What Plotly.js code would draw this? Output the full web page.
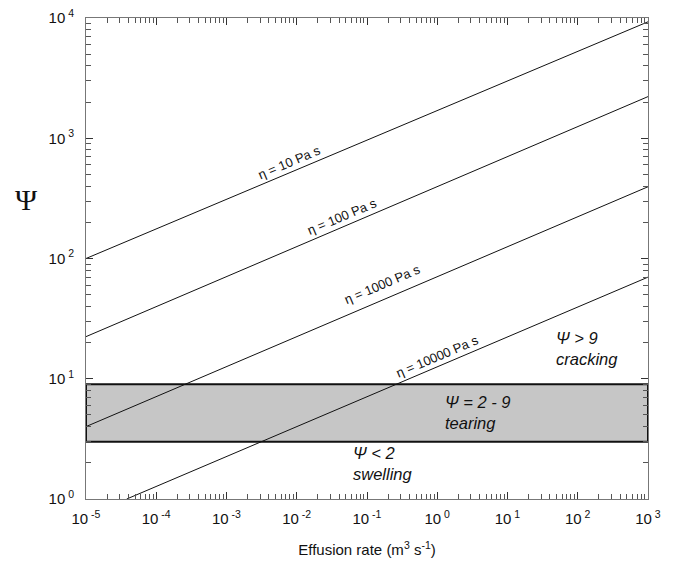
<!DOCTYPE html>
<html>
<head>
<meta charset="utf-8">
<script src="https://cdn.plot.ly/plotly-3.0.1.min.js"></script>
<style>html,body{margin:0;padding:0;background:#fff;}#chart{width:675px;height:569px;}</style>
</head>
<body>
<div id="chart"></div>
<script>
// ---- data ----
const effusionEnds = [1e-5, 1e3];
const psiEta10 = [100, 9300];
const psiEta100 = [22.4, 2220];
const psiEta1000 = [4.0, 395];
const effusionEta10000 = [3.8e-5, 1e3];
const psiEta10000 = [1, 70];
const viscosityLabels = ["η = 10 Pa s", "η = 100 Pa s", "η = 1000 Pa s", "η = 10000 Pa s"];
const tearingBoxX = [1e-5, 1e3, 1e3, 1e-5, 1e-5];
const tearingBoxY = [3, 3, 9, 9, 3];
const xTickVals = [1e-5, 1e-4, 1e-3, 1e-2, 1e-1, 1e0, 1e1, 1e2, 1e3];
const xTickText = ["10<sup> -5</sup>", "10<sup> -4</sup>", "10<sup> -3</sup>", "10<sup> -2</sup>", "10<sup> -1</sup>", "10<sup> 0</sup>", "10<sup> 1</sup>", "10<sup> 2</sup>", "10<sup> 3</sup>"];
const yTickVals = [1, 10, 100, 1000, 10000];
const yTickText = ["10<sup> 0</sup>", "10<sup> 1</sup>", "10<sup> 2</sup>", "10<sup> 3</sup>", "10<sup> 4</sup>"];
const minorMultipliers = [2, 3, 4, 5, 6, 7, 8, 9];

const minorTicks = (decades) => {
  const out = [];
  decades.slice(0, -1).forEach(d => minorMultipliers.forEach(m => out.push(d * m)));
  return out;
};

const lineStyle = {color: '#111', width: 1};
const traces = [
  {x: tearingBoxX, y: tearingBoxY, mode: 'lines', fill: 'toself', fillcolor: '#c6c6c6',
   line: {color: '#111', width: 2}, hoverinfo: 'skip'},
  {x: effusionEnds, y: psiEta10, mode: 'lines', line: lineStyle, name: viscosityLabels[0]},
  {x: effusionEnds, y: psiEta100, mode: 'lines', line: lineStyle, name: viscosityLabels[1]},
  {x: effusionEnds, y: psiEta1000, mode: 'lines', line: lineStyle, name: viscosityLabels[2]},
  {x: effusionEta10000, y: psiEta10000, mode: 'lines', line: lineStyle, name: viscosityLabels[3]}
];

const font = "Liberation Sans, Arial, Helvetica, sans-serif";
const rot = -23;
const etaAnn = (text, lx, ly) => ({text, x: lx, y: ly, xref: 'x', yref: 'y', showarrow: false,
  textangle: rot, font: {family: font, size: 13, color: '#111'}, xanchor: 'center', yanchor: 'middle'});
const regimeAnn = (text, lx, ly) => ({text, x: lx, y: ly, xref: 'x', yref: 'y', showarrow: false,
  align: 'left', font: {family: font, size: 16.5, color: '#111', style: 'italic'}, xanchor: 'center', yanchor: 'middle'});

const minorStyle = {tickmode: 'array', ticks: 'inside', ticklen: 5, tickcolor: '#555'};

const axisCommon = {
  type: 'log', showgrid: false, zeroline: false, showline: true, linecolor: '#777',
  mirror: 'allticks', ticks: 'inside', ticklen: 7, tickcolor: '#333',
  tickfont: {family: font, size: 15, color: '#111'}, tickmode: 'array'
};

const layout = {
  width: 675, height: 569,
  margin: {l: 86, r: 27, t: 18, b: 70},
  paper_bgcolor: '#fff', plot_bgcolor: '#fff',
  showlegend: false,
  xaxis: Object.assign({}, axisCommon, {range: [-5, 3], tickvals: xTickVals, ticktext: xTickText,
    ticklabelstandoff: 6,
    minor: Object.assign({tickvals: minorTicks(xTickVals)}, minorStyle),
    title: {text: 'Effusion rate (m<sup>3</sup> s<sup>-1</sup>)', font: {family: font, size: 15, color: '#111'}, standoff: 18}}),
  yaxis: Object.assign({}, axisCommon, {range: [0, 4], tickvals: yTickVals, ticktext: yTickText,
    ticklabelstandoff: 8,
    minor: Object.assign({tickvals: minorTicks(yTickVals)}, minorStyle)}),
  annotations: [
    etaAnn(viscosityLabels[0], -2.11, 2.80),
    etaAnn(viscosityLabels[1], -1.356, 2.353),
    etaAnn(viscosityLabels[2], -0.786, 1.78),
    etaAnn(viscosityLabels[3], -0.003, 1.189),
    regimeAnn('Ψ > 9<br>cracking', -5 + (586.5 - 86) / 70.25, 4 - (348.5 - 18) / 120.25),
    regimeAnn('Ψ = 2 - 9<br>tearing', -5 + (477.5 - 86) / 70.25, 4 - (412.5 - 18) / 120.25),
    regimeAnn('Ψ < 2<br>swelling', -5 + (382.5 - 86) / 70.25, 4 - (463 - 18) / 120.25),
    {text: 'Ψ', xref: 'paper', yref: 'paper', x: -0.105, y: 0.622, showarrow: false,
     font: {family: 'Liberation Serif, Times New Roman, serif', size: 30, color: '#111'},
     xanchor: 'center', yanchor: 'middle'}
  ]
};

Plotly.newPlot('chart', traces, layout, {displayModeBar: false, staticPlot: true});
</script>
</body>
</html>
